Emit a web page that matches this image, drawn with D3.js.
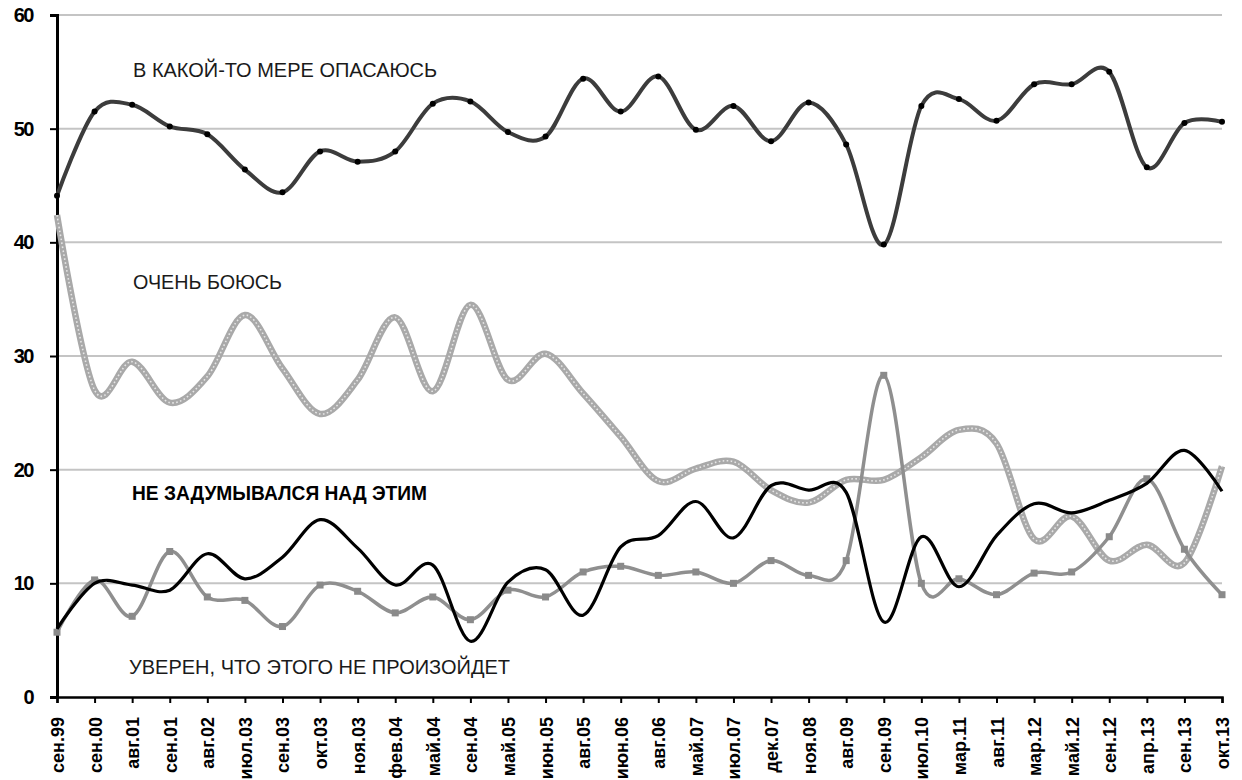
<!DOCTYPE html>
<html>
<head>
<meta charset="utf-8">
<script src="https://cdn.jsdelivr.net/npm/d3@7"></script>
<style>
  html, body { margin: 0; padding: 0; background: #fff; }
  svg { display: block; }
  text { font-family: "Liberation Sans", Arial, sans-serif; }
</style>
</head>
<body>
<svg id="chart" width="1242" height="780"></svg>
<script>
// Survey waves
const categories = ["сен.99","сен.00","авг.01","сен.01","авг.02","июл.03","сен.03","окт.03","ноя.03","фев.04",
  "май.04","сен.04","май.05","июн.05","авг.05","июн.06","авг.06","май.07","июл.07","дек.07",
  "ноя.08","авг.09","сен.09","июл.10","мар.11","авг.11","мар.12","май.12","сен.12","апр.13","сен.13","окт.13"];

// Shares of respondents, %
const somewhatAfraid = [44.1, 51.5, 52.1, 50.2, 49.5, 46.4, 44.4, 48.0, 47.1, 48.0,
  52.2, 52.4, 49.7, 49.3, 54.4, 51.5, 54.6, 49.9, 52.0, 48.9,
  52.3, 48.6, 39.8, 52.0, 52.6, 50.7, 53.9, 53.9, 55.0, 46.6, 50.5, 50.6];
const veryAfraid = [42.4, 27.0, 29.5, 25.9, 28.2, 33.6, 28.9, 24.9, 27.9, 33.4,
  26.9, 34.5, 27.9, 30.2, 26.7, 22.9, 19.0, 20.1, 20.7, 18.2,
  17.1, 19.1, 19.1, 21.1, 23.5, 22.3, 13.9, 15.9, 12.0, 13.4, 11.8, 20.3];
const neverThought = [6.0, 10.0, 9.85, 9.4, 12.6, 10.4, 12.3, 15.6, 13.1, 9.85,
  11.6, 4.9, 10.1, 11.2, 7.2, 13.2, 14.2, 17.2, 14.0, 18.6,
  18.2, 18.0, 6.6, 14.1, 9.7, 14.2, 17.0, 16.2, 17.3, 18.8, 21.7, 18.1];
const sureNot = [5.7, 10.3, 7.1, 12.8, 8.8, 8.5, 6.2, 9.85, 9.3, 7.4,
  8.8, 6.8, 9.4, 8.8, 11.0, 11.5, 10.7, 11.0, 10.0, 12.0,
  10.7, 12.0, 28.3, 10.0, 10.4, 9.0, 10.9, 11.0, 14.1, 19.2, 13.0, 9.0];

const yTicks = [0, 10, 20, 30, 40, 50, 60];

const svg = d3.select("#chart");
const plotLeft = 57, plotRight = 1222, plotTop = 15, plotBottom = 697;

const x = d3.scalePoint().domain(categories).range([plotLeft, plotRight]);
const y = d3.scaleLinear().domain([0, 60]).range([plotBottom, plotTop]);

// gridlines
svg.append("g").selectAll("line").data(yTicks.filter(d => d > 0)).join("line")
  .attr("x1", plotLeft).attr("x2", plotRight)
  .attr("y1", d => y(d)).attr("y2", d => y(d))
  .attr("stroke", "#c4c4c4").attr("stroke-width", 2);

// y axis
const yAxis = svg.append("g").attr("transform", `translate(${plotLeft},0)`)
  .call(d3.axisLeft(y).tickValues(yTicks).tickSize(7).tickPadding(17));
yAxis.select(".domain").attr("stroke", "#000").attr("stroke-width", 3);
yAxis.selectAll(".tick line").attr("stroke", "#000").attr("stroke-width", 2);
yAxis.selectAll(".tick text")
  .attr("font-family", "'Liberation Sans', Arial, sans-serif")
  .attr("font-size", 20).attr("font-weight", "bold").attr("letter-spacing", -1.5)
  .attr("fill", "#000");

// x axis
const xAxis = svg.append("g").attr("transform", `translate(0,${plotBottom})`)
  .call(d3.axisBottom(x).tickSize(6).tickSizeOuter(6));
xAxis.select(".domain").attr("stroke", "#000").attr("stroke-width", 2.5);
xAxis.selectAll(".tick line").attr("stroke", "#000").attr("stroke-width", 2);
xAxis.selectAll(".tick text")
  .attr("font-family", "'Liberation Sans', Arial, sans-serif")
  .attr("font-size", 18).attr("font-weight", "bold").attr("fill", "#000")
  .attr("text-anchor", "end")
  .attr("transform", "rotate(-90)")
  .attr("x", -20).attr("y", 0).attr("dy", "0.36em");

const curve = d3.curveCardinal.tension(0);
const line = d3.line().x((d, i) => x(categories[i])).y(d => y(d)).curve(curve);

// Очень боюсь: thick light line with a beaded centre
svg.append("path").datum(veryAfraid).attr("d", line)
  .attr("fill", "none").attr("stroke", "#a9a9a9").attr("stroke-width", 6.5);
svg.append("path").datum(veryAfraid).attr("d", line)
  .attr("fill", "none").attr("stroke", "#e6e6e6").attr("stroke-width", 1.6)
  .attr("stroke-dasharray", "1.6,2.4");

// Уверен, что этого не произойдет
svg.append("path").datum(sureNot).attr("d", line)
  .attr("fill", "none").attr("stroke", "#8f8f8f").attr("stroke-width", 3.5);
svg.append("g").selectAll("rect").data(sureNot).join("rect")
  .attr("x", (d, i) => x(categories[i]) - 3.5).attr("y", d => y(d) - 3.5)
  .attr("width", 7).attr("height", 7).attr("fill", "#8a8a8a");

// Не задумывался над этим
svg.append("path").datum(neverThought).attr("d", line)
  .attr("fill", "none").attr("stroke", "#000").attr("stroke-width", 3.2);

// В какой-то мере опасаюсь
svg.append("path").datum(somewhatAfraid).attr("d", line)
  .attr("fill", "none").attr("stroke", "#3c3c3c").attr("stroke-width", 4);
svg.append("g").selectAll("circle").data(somewhatAfraid).join("circle")
  .attr("cx", (d, i) => x(categories[i])).attr("cy", d => y(d))
  .attr("r", 3).attr("fill", "#000");

// series captions
const captions = [
  { text: "В КАКОЙ-ТО МЕРЕ ОПАСАЮСЬ", x: 133, y: 77, len: 304, bold: false },
  { text: "ОЧЕНЬ БОЮСЬ", x: 133, y: 289, len: 149, bold: false },
  { text: "НЕ ЗАДУМЫВАЛСЯ НАД ЭТИМ", x: 132, y: 500, len: 295, bold: true },
  { text: "УВЕРЕН, ЧТО ЭТОГО НЕ ПРОИЗОЙДЕТ", x: 129, y: 674, len: 381, bold: false }
];
svg.append("g").selectAll("text").data(captions).join("text")
  .attr("x", d => d.x).attr("y", d => d.y)
  .attr("font-size", 20)
  .attr("font-weight", d => d.bold ? "bold" : "normal")
  .attr("fill", d => d.bold ? "#000" : "#1a1a1a")
  .attr("textLength", d => d.len).attr("lengthAdjust", "spacingAndGlyphs")
  .text(d => d.text);
</script>
</body>
</html>
